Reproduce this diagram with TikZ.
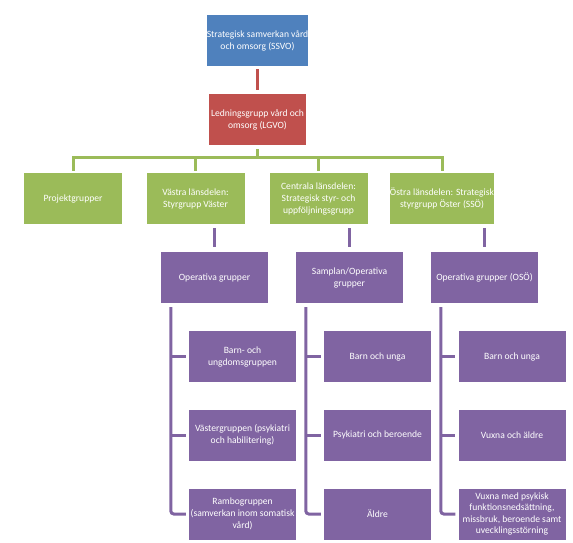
\documentclass[tikz,border=0pt]{standalone}
\usepackage{fontspec}
\setmainfont{Carlito}
\definecolor{cblue}{HTML}{4F81BD}
\definecolor{cred}{HTML}{C0504D}
\definecolor{cgreen}{HTML}{9BBB59}
\definecolor{cpurple}{HTML}{8064A2}
\begin{document}
\begin{tikzpicture}[x=1pt,y=-1pt,
  box/.style={rectangle, inner sep=0pt, text=white, align=center,
    font=\fontsize{9.6}{12}\selectfont, minimum height=51pt},
  bluebox/.style={box, fill=cblue, minimum width=97pt},
  redbox/.style={box, fill=cred, minimum width=97pt},
  greenbox/.style={box, fill=cgreen, minimum width=98pt},
  purplebox/.style={box, fill=cpurple, minimum width=107pt},
  rline/.style={draw=cred, line width=3.5pt},
  gline/.style={draw=cgreen, line width=3pt},
  pline/.style={draw=cpurple, line width=3pt}]
\useasboundingbox (0,0) rectangle (573,542);
\fill[white] (0,0) rectangle (573,542);
% top levels
\node[bluebox] (ssvo) at (257.5,40.5) {Strategisk samverkan vård\\och omsorg (SSVO)};
\node[redbox] (lgvo) at (257.5,119.5) {Ledningsgrupp vård och\\omsorg (LGVO)};
% green level
\node[greenbox] (proj) at (73,198.5) {Projektgrupper};
\node[greenbox] (vast) at (195.5,198.5) {Västra länsdelen:\\Styrgrupp Väster};
\node[greenbox] (cent) at (318.5,198.5) {Centrala länsdelen:\\Strategisk styr- och\\uppföljningsgrupp};
\node[greenbox] (ost) at (442,198.5) {Östra länsdelen: Strategisk\\styrgrupp Öster (SSÖ)};
% purple level
\node[purplebox] (op1) at (214.5,277.5) {Operativa grupper};
\node[purplebox] (op2) at (349.5,277.5) {Samplan/Operativa\\grupper};
\node[purplebox] (op3) at (484.5,277.5) {Operativa grupper (OSÖ)};
% children
\node[purplebox] (c11) at (242.5,356.5) {Barn- och\\ungdomsgruppen};
\node[purplebox] (c12) at (242.5,435) {Västergruppen (psykiatri\\och habilitering)};
\node[purplebox] (c13) at (242.5,514) {Rambogruppen\\(samverkan inom somatisk\\vård)};
\node[purplebox] (c21) at (377.5,356.5) {Barn och unga};
\node[purplebox] (c22) at (377.5,435) {Psykiatri och beroende};
\node[purplebox] (c23) at (377.5,514) {Äldre};
\node[purplebox] (c31) at (512,356.5) {Barn och unga};
\node[purplebox] (c32) at (512,435) {Vuxna och äldre};
\node[purplebox, font=\fontsize{9.6}{11.2}\selectfont] (c33) at (512,514) {Vuxna med psykisk\\funktionsnedsättning,\\missbruk, beroende samt\\uvecklingsstörning};
% connectors
\draw[rline, shorten <=3pt, shorten >=4pt] (ssvo) -- (lgvo);
\coordinate (bus) at (257.5,157);
\draw[gline, shorten <=4pt] (lgvo) -- (bus);
\draw[gline, shorten >=2pt] (bus) -| (proj);
\draw[gline, shorten >=2pt] (bus) -| (vast);
\draw[gline, shorten >=2pt] (bus) -| (cent);
\draw[gline, shorten >=2pt] (bus) -| (ost);
\draw[pline, shorten <=4pt, shorten >=5pt] (vast.south -| op1) -- (op1);
\draw[pline, shorten <=4pt, shorten >=5pt] (cent.south -| op2) -- (op2);
\draw[pline, shorten <=4pt, shorten >=5pt] (ost.south -| op3) -- (op3);
% trunks
\foreach \p/\a/\b/\c in {op1/c11/c12/c13, op2/c21/c22/c23, op3/c31/c32/c33}{
  \coordinate (t) at ([xshift=10pt]\p.south west);
  \draw[pline, rounded corners=3pt, shorten <=4pt, shorten >=3pt] (t) |- (\c.west);
  \draw[pline, shorten >=3pt] (t |- \a.west) -- (\a.west);
  \draw[pline, shorten >=3pt] (t |- \b.west) -- (\b.west);
}
\end{tikzpicture}
\end{document}
